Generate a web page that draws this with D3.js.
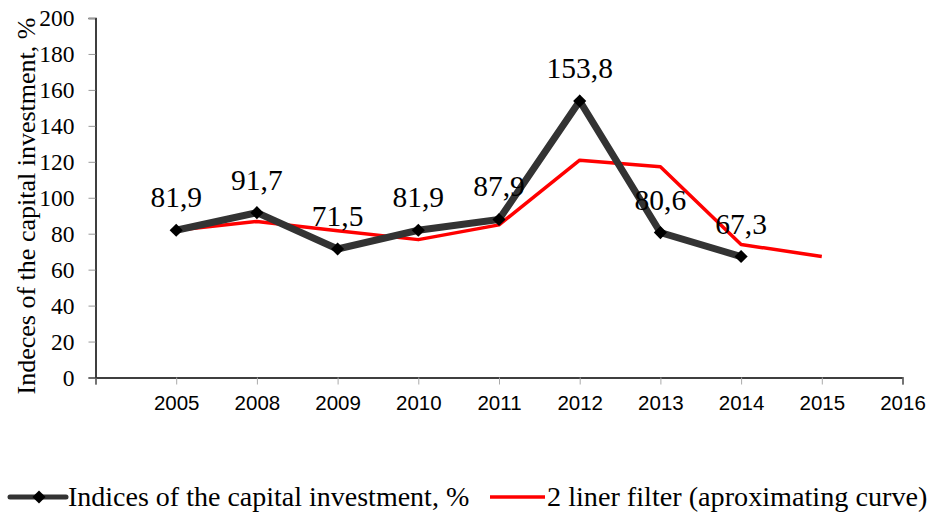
<!DOCTYPE html>
<html><head><meta charset="utf-8">
<script src="https://cdn.jsdelivr.net/npm/d3@7"></script>
<style>body{margin:0;background:#fff}</style>
</head><body>
<script>
const years = ["2005","2008","2009","2010","2011","2012","2013","2014","2015","2016"];
const indices = [81.9, 91.7, 71.5, 81.9, 87.9, 153.8, 80.6, 67.3];
const indexLabels = ["81,9","91,7","71,5","81,9","87,9","153,8","80,6","67,3"];
const filter = [81.9, 86.8, 81.6, 76.7, 84.9, 120.9, 117.2, 74.0, 67.3];
const yTicks = [0,20,40,60,80,100,120,140,160,180,200];

const SERIF="'Liberation Serif', 'Times New Roman', serif";
const SANS="'Liberation Sans', Arial, sans-serif";
const W=929,H=512;
const svg=d3.select("body").append("svg").attr("width",W).attr("height",H);
const x=d3.scaleLinear().domain([0,years.length]).range([95.5,902.5]);
const y=d3.scaleLinear().domain([0,200]).range([377.5,18]);

// y axis
const ya=svg.append("g").attr("transform","translate(95.5,0)")
  .call(d3.axisLeft(y).tickValues(yTicks).tickSize(7).tickPadding(14));
ya.select(".domain").attr("stroke","#000").attr("stroke-width",1.5);
ya.selectAll(".tick line").attr("stroke","#999");
ya.selectAll(".tick text").attr("font-family",SERIF).attr("font-size",23.5).attr("fill","#000");

// x axis
const xa=svg.append("g").attr("transform","translate(0,377.5)")
  .call(d3.axisBottom(x).tickValues(d3.range(0,years.length+1)).tickSize(7).tickPadding(8)
    .tickFormat(i=> i===0?"":years[i-1]));
xa.select(".domain").attr("stroke","#000").attr("stroke-width",1.5);
xa.selectAll(".tick line").attr("stroke","#aaa");
xa.selectAll(".tick text").attr("font-family",SANS).attr("font-size",20.5).attr("fill","#000").attr("dy","0.85em");

// y label
svg.append("text").attr("transform","translate(35,206) rotate(-90)")
  .attr("text-anchor","middle").attr("font-family",SERIF)
  .attr("font-size",26).text("Indeces of the capital investment, %");

// red filter line
svg.append("path").datum(filter).attr("fill","none").attr("stroke","#ff0000").attr("stroke-width",3.5)
  .attr("stroke-linejoin","round")
  .attr("d",d3.line().x((d,i)=>x(i+1)).y(d=>y(d)));

// black index line
svg.append("path").datum(indices).attr("fill","none").attr("stroke","#333").attr("stroke-width",7)
  .attr("stroke-linejoin","miter")
  .attr("d",d3.line().x((d,i)=>x(i+1)).y(d=>y(d)));

const diamond=d3.symbol().type(d3.symbolDiamond2).size(110);
svg.selectAll("path.mk").data(indices).enter().append("path").attr("class","mk")
  .attr("d",diamond).attr("fill","#000")
  .attr("transform",(d,i)=>`translate(${x(i+1)},${y(d)})`);

// data labels
svg.selectAll("text.dl").data(indices).enter().append("text").attr("class","dl")
  .attr("x",(d,i)=>x(i+1)).attr("y",d=>y(d)-23).attr("text-anchor","middle")
  .attr("font-family",SERIF).attr("font-size",29.5)
  .text((d,i)=>indexLabels[i]);

// legend
const lg=svg.append("g");
lg.append("line").attr("x1",10).attr("x2",66).attr("y1",497).attr("y2",497).attr("stroke","#333").attr("stroke-width",5).attr("stroke-linecap","round");
lg.append("path").attr("d",diamond).attr("fill","#000").attr("transform","translate(39,497)");
lg.append("text").attr("x",68).attr("y",506).attr("font-family",SERIF).attr("font-size",28).text("Indices of the capital investment, %");
lg.append("line").attr("x1",490).attr("x2",545).attr("y1",497).attr("y2",497).attr("stroke","#ff0000").attr("stroke-width",3.5);
lg.append("text").attr("x",547).attr("y",506).attr("font-family",SERIF).attr("font-size",28.2).text("2 liner filter (aproximating curve)");
</script>
</body></html>
